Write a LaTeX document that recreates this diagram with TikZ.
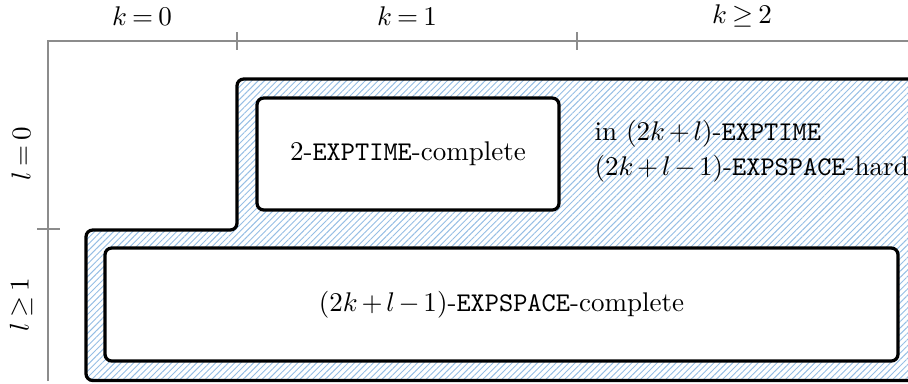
\documentclass[tikz,border=0pt]{standalone}
\usetikzlibrary{patterns.meta}
\definecolor{hatchblue}{RGB}{150,190,228}
\thickmuskip=3.5mu plus 1mu
\medmuskip=2.5mu plus 1mu
\begin{document}
\begin{tikzpicture}[x=0.37pt,y=-0.37pt,
  axis/.style={draw=black!45,line width=1pt},
  region/.style={draw=black,line width=1.2pt,rounded corners=2.5pt,
    pattern={Lines[angle=45,distance=1.65pt,line width=0.35pt]},pattern color=hatchblue},
  cbox/.style={draw=black,line width=1.2pt,rounded corners=2.5pt,fill=white,inner sep=0pt},
  lbl/.style={inner sep=0pt},
]
\useasboundingbox (0,0) rectangle (908,383);
% axes
\coordinate (o) at (48,41);
\coordinate (xe) at (908,41);
\coordinate (ye) at (48,381);
\draw[axis] (ye) -- (o) -- (xe);
\coordinate (t1a) at (237,32); \coordinate (t1b) at (237,50);
\coordinate (t2a) at (577,32); \coordinate (t2b) at (577,50);
\coordinate (t3a) at (37,229); \coordinate (t3b) at (60,229);
\draw[axis] (t1a) -- (t1b);
\draw[axis] (t2a) -- (t2b);
\draw[axis] (t3a) -- (t3b);
\node[lbl] (k0) at (142,16) {$k = 0$};
\node[lbl] (k1) at (407,16) {$k = 1$};
\node[lbl] (k2) at (742,16) {$k \geq 2$};
\node[lbl,rotate=90] (l0) at (21,154) {$l = 0$};
\node[lbl,rotate=90] (l1) at (21,305) {$l \geq 1$};
% hatched region
\begin{scope}
\clip (0,0) rectangle (908,383);
\draw[region] (86,380.5) -- (86,230) -- (237,230) -- (237,79) -- (930,79) -- (930,380.5) -- cycle;
\end{scope}
% boxes
\node[cbox,minimum width=302*0.37pt,minimum height=112*0.37pt] (b1) at (408,154) {2-\texttt{EXPTIME}-complete};
\node[cbox,minimum width=793*0.37pt,minimum height=113*0.37pt] (b2) at (501.5,304.5) {$(2k+l-1)$-\texttt{EXPSPACE}-complete};
\node[lbl,anchor=west,align=left] (t) at (594,151) {in $(2k+l)$-\texttt{EXPTIME}\\[0.8pt]$(2k+l-1)$-\texttt{EXPSPACE}-hard};
\end{tikzpicture}
\end{document}
